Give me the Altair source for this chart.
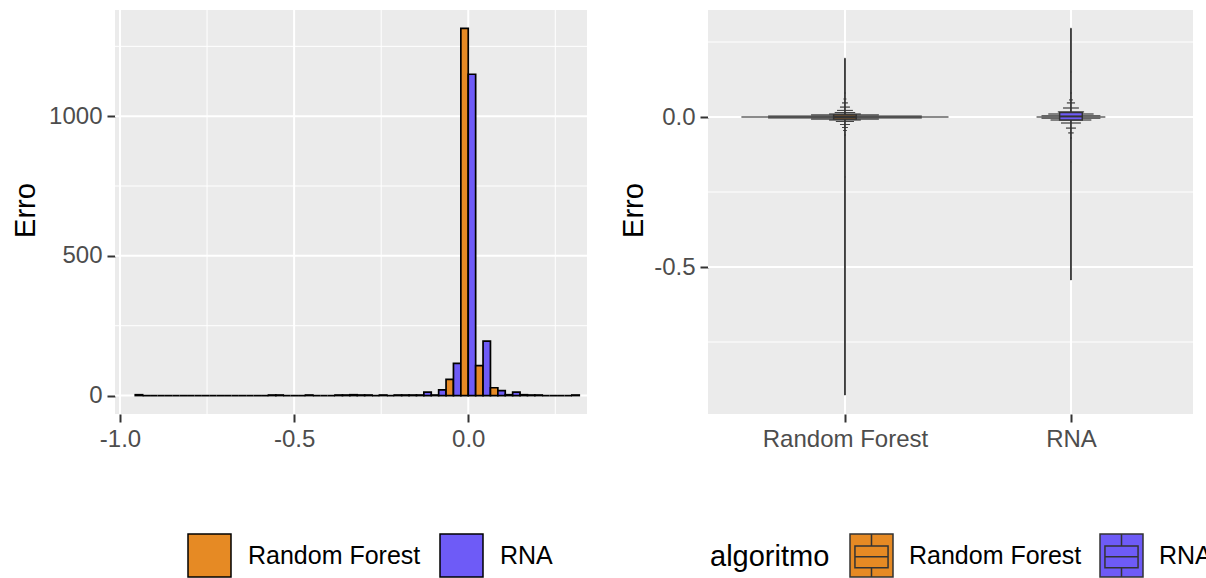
import altair as alt
import pandas as pd

# ---------------- data ----------------
algoritmos = ["Random Forest", "RNA"]
cores = ["#E68A24", "#6E5BF7"]

# histogram: 30 bins (centres) and counts per algorithm
largura_bin = 0.0425
bin_centros = [-0.935, -0.8925, -0.85, -0.8075, -0.765, -0.7225, -0.68, -0.6375,
               -0.595, -0.5525, -0.51, -0.4675, -0.425, -0.3825, -0.34, -0.2975,
               -0.255, -0.2125, -0.17, -0.1275, -0.085, -0.0425, 0.0, 0.0425,
               0.085, 0.1275, 0.17, 0.2125, 0.255, 0.2975]
contagem_rf = [3, 0, 0, 0, 0, 0, 0, 0, 0, 2, 0, 0, 0, 0, 2, 2,
               0, 0, 2, 2, 2, 58, 1314, 107, 28, 3, 3, 2, 0, 0]
contagem_rna = [0, 0, 0, 0, 0, 0, 0, 0, 0, 2, 0, 2, 0, 2, 3, 2,
                2, 2, 2, 12, 20, 115, 1150, 195, 18, 12, 2, 0, 0, 2]

# violin profiles (value, half width in category units)
violino_rf_y = [-0.927, -0.2, -0.06, -0.045, -0.035, -0.025, -0.015, -0.01, -0.007,
                -0.003, 0.0, 0.003, 0.007, 0.01, 0.015, 0.022, 0.033, 0.047, 0.06,
                0.08, 0.196]
violino_rf_meia = [0.001, 0.002, 0.004, 0.008, 0.013, 0.022, 0.04, 0.07, 0.15,
                   0.34, 0.458, 0.34, 0.15, 0.07, 0.045, 0.035, 0.022, 0.013, 0.006,
                   0.003, 0.001]
violino_rna_y = [-0.543, -0.15, -0.07, -0.053, -0.037, -0.02, -0.01, -0.004, 0.0,
                 0.004, 0.01, 0.017, 0.03, 0.047, 0.057, 0.08, 0.15, 0.296]
violino_rna_meia = [0.001, 0.002, 0.004, 0.012, 0.022, 0.044, 0.09, 0.13, 0.152,
                    0.13, 0.1, 0.058, 0.035, 0.018, 0.008, 0.004, 0.002, 0.001]

# boxplot summaries
posicao_cat = [1, 2]
box_q1 = [-0.007, -0.010]
box_mediana = [0.0, 0.002]
box_q3 = [0.007, 0.015]
valor_min = [-0.927, -0.543]
valor_max = [0.196, 0.296]
largura_box = 0.1

# axis ticks / grids
hist_x_ticks = [-1.0, -0.5, 0.0]
hist_x_minor = [-0.75, -0.25, 0.25]
hist_y_ticks = [0, 500, 1000]
hist_y_minor = [250, 750, 1250]
vio_y_ticks = [-0.5, 0.0]
vio_y_minor = [-0.75, -0.25, 0.25]

# ---------------- tables ----------------
rows = []
for i, c in enumerate(bin_centros):
    for g, alg in enumerate(algoritmos):
        n = [contagem_rf, contagem_rna][g][i]
        x0 = c - largura_bin / 2 + g * largura_bin / 2
        rows.append({"algoritmo": alg, "x0": x0, "x1": x0 + largura_bin / 2, "n": n, "base": 0})
hist_df = pd.DataFrame(rows)

vrows = []
for g, (ys, hs) in enumerate([(violino_rf_y, violino_rf_meia), (violino_rna_y, violino_rna_meia)]):
    for y, h in zip(ys, hs):
        vrows.append({"algoritmo": algoritmos[g], "y": y,
                      "lo": posicao_cat[g] - h, "hi": posicao_cat[g] + h})
vio_df = pd.DataFrame(vrows)

box_df = pd.DataFrame({
    "algoritmo": algoritmos,
    "pos": posicao_cat,
    "bx0": [p - largura_box / 2 for p in posicao_cat],
    "bx1": [p + largura_box / 2 for p in posicao_cat],
    "q1": box_q1, "med": box_mediana, "q3": box_q3,
    "vmin": valor_min, "vmax": valor_max,
})

# ---------------- styling ----------------
FONT = "Liberation Sans"
cor_scale = alt.Scale(domain=algoritmos, range=cores)
minus_fix = "replace(format(datum.value, '.1f'), '\u2212', '-')"

xs_left = alt.Scale(domain=[-1.0144, 0.3410], nice=False, zero=False)
ys_left = alt.Scale(domain=[-66, 1380], nice=False, zero=False)
xs_right = alt.Scale(domain=[0.394, 2.54], nice=False, zero=False)
ys_right = alt.Scale(domain=[-0.99, 0.3567], nice=False, zero=False)

ax_x_left = alt.Axis(values=hist_x_ticks, labelExpr=minus_fix, title=None)
ax_y_left = alt.Axis(values=hist_y_ticks, format="d", title="Erro",
                     titleX=-81, titleY=200, titleAngle=270, titleBaseline="alphabetic",
                     titleAlign="center")
lab_expr = "datum.value == 1 ? '%s' : '%s'" % (algoritmos[0], algoritmos[1])
ax_x_right = alt.Axis(values=posicao_cat, labelExpr=lab_expr, title=None)
ax_y_right = alt.Axis(values=vio_y_ticks, labelExpr=minus_fix, title="Erro",
                      titleX=-66, titleY=200, titleAngle=270, titleBaseline="alphabetic",
                      titleAlign="center")

leg_left = alt.Legend(title=None, orient="none", legendX=72, legendY=523,
                      direction="horizontal", symbolType="square", symbolSize=1849,
                      symbolStrokeColor="black", symbolStrokeWidth=1.5,
                      labelFontSize=25, labelFont=FONT, labelColor="black",
                      labelLimit=400, labelOffset=16, columnPadding=16, padding=0)
box_path = ("M-1,-1H1V1H-1Z M0,-1V-0.44 M-0.77,-0.44H0.77V0.57H-0.77Z "
            "M-0.77,0.06H0.77 M0,0.57V1")
leg_right = alt.Legend(title="algoritmo", orient="none", legendX=2, legendY=523,
                       direction="horizontal", titleOrient="left", titleFontSize=29,
                       titleFont=FONT, titleFontWeight="normal", titleColor="black",
                       titlePadding=19, titleBaseline="middle", titleAnchor="middle",
                       symbolType=box_path, symbolSize=1849,
                       symbolStrokeColor="#333333", symbolStrokeWidth=1.5,
                       labelFontSize=25, labelFont=FONT, labelColor="black",
                       labelLimit=400, labelOffset=15, columnPadding=15, padding=0)


def vgrid(vals, scale, axis, width):
    return alt.Chart(pd.DataFrame({"v": vals})).mark_rule(
        color="white", strokeWidth=width).encode(x=alt.X("v:Q", scale=scale, axis=axis))


def hgrid(vals, scale, axis, width):
    return alt.Chart(pd.DataFrame({"v": vals})).mark_rule(
        color="white", strokeWidth=width).encode(y=alt.Y("v:Q", scale=scale, axis=axis))


# ---------------- left: histogram ----------------
bars = alt.Chart(hist_df).mark_rect(stroke="black", strokeWidth=1.7).encode(
    x=alt.X("x0:Q", scale=xs_left, axis=ax_x_left),
    x2="x1:Q",
    y=alt.Y("n:Q", scale=ys_left, axis=ax_y_left),
    y2="base:Q",
    fill=alt.Fill("algoritmo:N", scale=cor_scale, legend=leg_left),
)
left = alt.layer(
    vgrid(hist_x_minor, xs_left, ax_x_left, 1),
    hgrid(hist_y_minor, ys_left, ax_y_left, 1),
    vgrid(hist_x_ticks, xs_left, ax_x_left, 2),
    hgrid(hist_y_ticks, ys_left, ax_y_left, 2),
    bars,
).properties(width=472, height=404)

# ---------------- right: violin + boxplot ----------------
vio = alt.Chart(vio_df).mark_area(orient="horizontal", stroke="#333333", strokeWidth=0.7).encode(
    y=alt.Y("y:Q", scale=ys_right, axis=ax_y_right),
    x=alt.X("lo:Q", scale=xs_right, axis=ax_x_right),
    x2="hi:Q",
    fill=alt.Fill("algoritmo:N", scale=cor_scale, legend=leg_right),
    order=alt.Order("y:Q"),
)
linha = alt.Chart(box_df).mark_rule(color="#333333", strokeWidth=1.8).encode(
    x=alt.X("pos:Q", scale=xs_right, axis=ax_x_right),
    y=alt.Y("vmin:Q", scale=ys_right, axis=ax_y_right),
    y2="vmax:Q",
)
caixa = alt.Chart(box_df).mark_rect(stroke="#333333", strokeWidth=1.5).encode(
    x=alt.X("bx0:Q", scale=xs_right, axis=ax_x_right),
    x2="bx1:Q",
    y=alt.Y("q1:Q", scale=ys_right, axis=ax_y_right),
    y2="q3:Q",
    fill=alt.Fill("algoritmo:N", scale=cor_scale, legend=leg_right),
)
mediana = alt.Chart(box_df).mark_rule(color="#333333", strokeWidth=2).encode(
    x=alt.X("bx0:Q", scale=xs_right, axis=ax_x_right),
    x2="bx1:Q",
    y=alt.Y("med:Q", scale=ys_right, axis=ax_y_right),
)
right = alt.layer(
    hgrid(vio_y_minor, ys_right, ax_y_right, 1),
    vgrid(posicao_cat, xs_right, ax_x_right, 2),
    hgrid(vio_y_ticks, ys_right, ax_y_right, 2),
    vio, linha, caixa, mediana,
).properties(width=485, height=404)

chart = alt.hconcat(left, right, spacing=121, bounds="flush").resolve_scale(
    fill="independent").resolve_legend(fill="independent").properties(
    autosize=alt.AutoSizeParams(type="none"),
    padding={"left": 115, "top": 10, "right": 1091, "bottom": 568},
).configure(font=FONT).configure_view(fill="#EBEBEB", strokeWidth=0).configure_axis(
    grid=False, domain=False, ticks=True, tickSize=8, tickWidth=2, tickColor="#333333",
    labelFont=FONT, labelFontSize=24, labelColor="#4D4D4D", labelPadding=5,
    labelFlush=False, labelOverlap=False, labelBound=False,
    titleFont=FONT, titleFontSize=29, titleFontWeight="normal", titleColor="black",
)

chart.save("out.html", embed_options={"renderer": "svg", "actions": False})
